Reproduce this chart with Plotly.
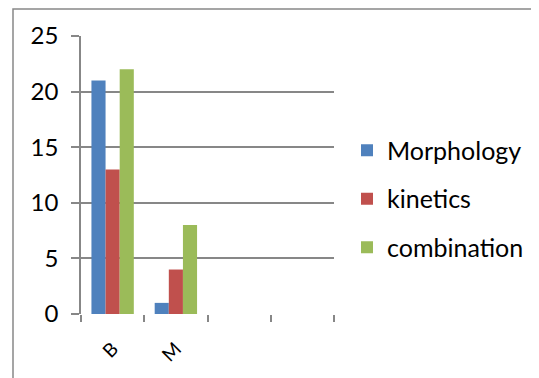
import plotly.graph_objects as go

categories = ["B", "M", " ", "  "]
series_names = ["Morphology", "kinetics", "combination"]
morphology = [21, 1]
kinetics = [13, 4]
combination = [22, 8]
colors = ["#4F81BD", "#C0504D", "#9BBB59"]
y_ticks = [0, 5, 10, 15, 20, 25]

W, H = 539, 378
OFF = 8  # page offset of the figure in the browser
L, R, T, B = 81 - OFF, 334 - OFF, 36 - OFF, 314 - OFF

fig = go.Figure()
for name, vals, col in zip(series_names, [morphology, kinetics, combination], colors):
    fig.add_trace(go.Bar(x=categories[:2], y=vals, name=name, marker=dict(color=col, line=dict(width=0)),
                         legendgroup=name))

grid = "#878787"
fig.update_layout(
    width=W, height=H,
    margin=dict(l=L, r=W - R, t=T, b=H - B, pad=0),
    paper_bgcolor="white", plot_bgcolor="white",
    font=dict(family="Lato", color="#000000", size=24),
    barmode="group", bargap=0.33, bargroupgap=0,
    showlegend=True,
    legend=dict(x=(347 - OFF - L) / (R - L), y=0.414, xanchor="left", yanchor="middle",
                font=dict(size=25), tracegroupgap=13, traceorder="grouped",
                itemwidth=30, bgcolor="rgba(0,0,0,0)"),
    xaxis=dict(type="category", categoryorder="array", categoryarray=categories,
               range=[-0.5, 3.5], tickson="boundaries", ticks="outside", ticklen=7,
               tickcolor=grid, tickwidth=1.5, showline=False, showgrid=False,
               tickangle=-45, tickfont=dict(size=19), ticklabelstandoff=19,
               zeroline=False),
    yaxis=dict(range=[0, 25], tickvals=y_ticks, ticks="outside", ticklen=8,
               tickcolor=grid, tickwidth=1.5, showgrid=True, gridcolor=grid, gridwidth=1.5,
               showline=True, linecolor=grid, linewidth=1.5, zeroline=False,
               ticklabelstandoff=8, tickfont=dict(size=24)),
)

# outer chart border (left and top edges visible)
bx0 = (13 - OFF - L) / (R - L)
bx1 = (W + 10 - L) / (R - L)
by1 = (B - 1) / (B - T)
by0 = (B - (H + 10)) / (B - T)
fig.add_shape(type="rect", xref="paper", yref="paper", x0=bx0, x1=bx1, y0=by0, y1=by1,
              line=dict(color="#888888", width=1.5), layer="below")

fig.write_html("out.html")
